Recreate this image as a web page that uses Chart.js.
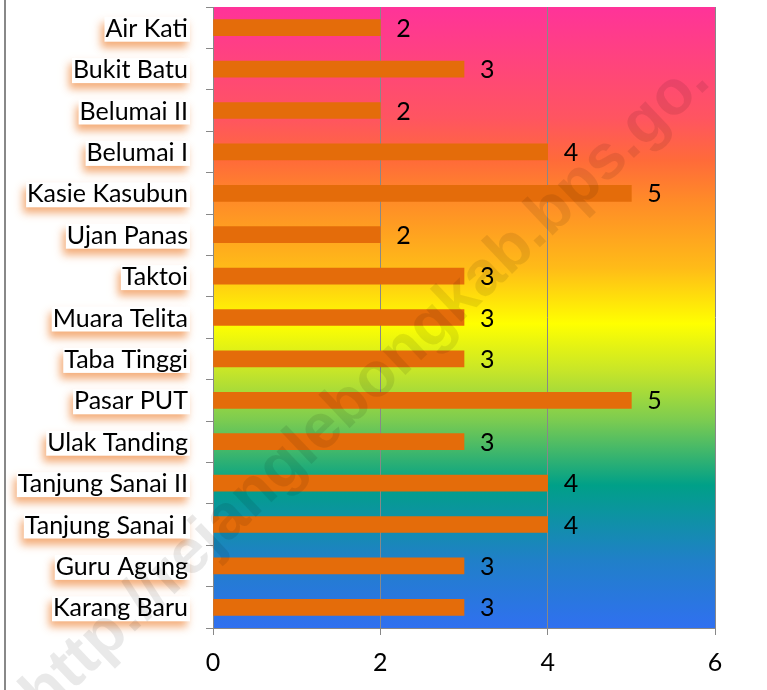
<!DOCTYPE html>
<html>
<head>
<meta charset="utf-8">
<script src="https://cdn.jsdelivr.net/npm/chart.js@4.4.0/dist/chart.umd.min.js"></script>
<style>body{margin:0;background:#fff}</style>
</head>
<body>
<canvas id="myChart" width="767" height="690"></canvas>
<script>
const villages = ['Air Kati', 'Bukit Batu', 'Belumai II', 'Belumai I', 'Kasie Kasubun', 'Ujan Panas', 'Taktoi',
    'Muara Telita', 'Taba Tinggi', 'Pasar PUT', 'Ulak Tanding', 'Tanjung Sanai II', 'Tanjung Sanai I',
    'Guru Agung', 'Karang Baru']
const counts = [2, 3, 2, 4, 5, 2, 3, 3, 3, 5, 3, 4, 4, 3, 3]
const xTicks = [0, 2, 4, 6]
const watermark = 'http://rejanglebongkab.bps.go.'

const labelFont = '25px Lato'

// rainbow fill behind the bars
const backgroundPlugin = {
    id: 'rainbow',
    beforeDraw(chart) {
        const {ctx, chartArea: a} = chart
        const g = ctx.createLinearGradient(0, a.top, 0, a.bottom)
        g.addColorStop(0, '#ff3399')
        g.addColorStop(0.18, '#ff5560')
        g.addColorStop(0.246, '#ff6a3a')
        g.addColorStop(0.31, '#ff8a28')
        g.addColorStop(0.42, '#ffbb18')
        g.addColorStop(0.51, '#ffff00')
        g.addColorStop(0.585, '#c8e628')
        g.addColorStop(0.665, '#7ccc50')
        g.addColorStop(0.77, '#00a088')
        g.addColorStop(0.89, '#2080c8')
        g.addColorStop(1, '#3070f0')
        ctx.save()
        ctx.fillStyle = g
        ctx.fillRect(a.left, a.top, a.right - a.left, a.bottom - a.top)
        ctx.restore()
    }
}

const labelsPlugin = {
    id: 'labels',
    afterDraw(chart) {
        const ctx = chart.ctx
        const yScale = chart.scales.y
        ctx.save()
        ctx.font = labelFont
        // category names with white box and orange glow
        villages.forEach((name, i) => {
            const y = yScale.getPixelForTick(i)
            const w = ctx.measureText(name).width
            const right = 189
            ctx.save()
            ctx.shadowColor = 'rgba(242,160,100,0.85)'
            ctx.shadowBlur = 8
            ctx.shadowOffsetX = -3
            ctx.shadowOffsetY = 6
            ctx.fillStyle = '#fff'
            ctx.fillRect(right - w - 2, y - 11, w + 3, 25)
            ctx.restore()
        })
        ctx.fillStyle = '#000'
        ctx.textAlign = 'right'
        ctx.textBaseline = 'middle'
        villages.forEach((name, i) => {
            ctx.fillText(name, 188, yScale.getPixelForTick(i) + 1)
        })
        // values next to the bars
        ctx.textAlign = 'left'
        chart.getDatasetMeta(0).data.forEach((bar, i) => {
            ctx.fillText(counts[i], bar.x + 16, bar.y + 1)
        })
        // watermark
        ctx.translate(712, 84)
        ctx.rotate(-43.5 * Math.PI / 180)
        ctx.font = 'bold 63px "Liberation Sans"'
        ctx.textAlign = 'right'
        ctx.textBaseline = 'alphabetic'
        ctx.fillStyle = 'rgba(0,0,0,0.085)'
        ctx.fillText(watermark, 0, 0)
        ctx.restore()
        // outer border on the left
        ctx.save()
        ctx.fillStyle = '#888'
        ctx.fillRect(4, 0, 2, 690)
        ctx.restore()
    }
}

new Chart(document.getElementById('myChart'), {
    type: 'bar',
    data: {
        labels: villages,
        datasets: [{
            data: counts,
            backgroundColor: '#e46c0a',
            borderWidth: 0,
            barThickness: 16
        }]
    },
    options: {
        indexAxis: 'y',
        responsive: false,
        animation: false,
        layout: {padding: {top: 7, right: 52, left: 0, bottom: 0}},
        plugins: {legend: {display: false}, tooltip: {enabled: false}},
        scales: {
            x: {
                min: 0,
                max: 6,
                afterBuildTicks: (scale) => { scale.ticks = xTicks.map(v => ({value: v})) },
                afterFit: (scale) => { scale.height = 62 },
                grid: {color: '#888', tickLength: 7},
                border: {color: '#888'},
                ticks: {color: '#000', font: {family: 'Lato', size: 25}, padding: 13}
            },
            y: {
                afterFit: (scale) => { scale.width = 213 },
                grid: {drawOnChartArea: false, color: '#888', tickLength: 7},
                border: {color: '#888'},
                ticks: {color: 'rgba(0,0,0,0)', font: {size: 1}}
            }
        }
    },
    plugins: [backgroundPlugin, labelsPlugin]
});
</script>
</body>
</html>
